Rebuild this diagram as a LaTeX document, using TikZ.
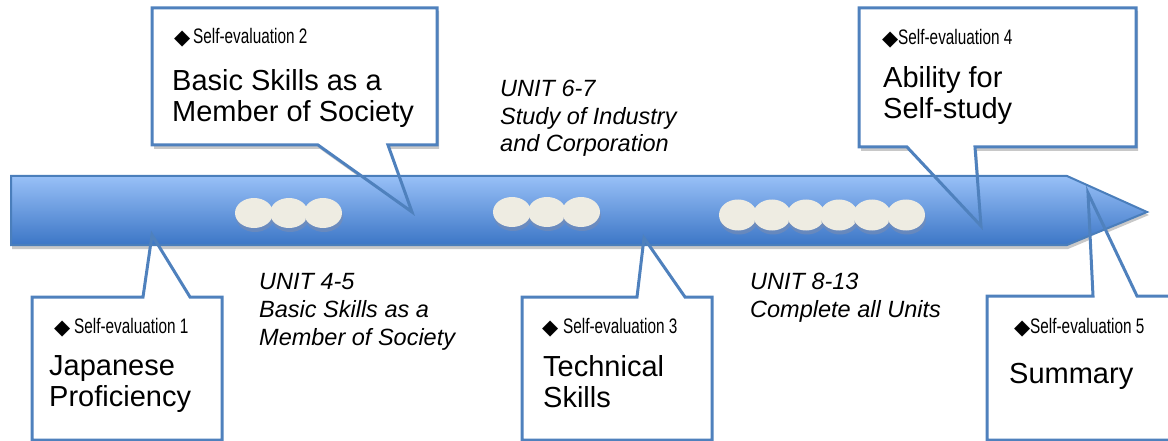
\documentclass[tikz,border=0pt]{standalone}
\usepackage{fontspec}
\setmainfont{Liberation Sans}
\newfontfamily\symfont{DejaVu Sans}
\usepackage{graphicx}
\definecolor{cline}{RGB}{79,129,189}
\definecolor{aline}{RGB}{74,126,187}
\definecolor{atop}{RGB}{152,192,247}
\definecolor{abot}{RGB}{60,118,198}
\definecolor{ovalfill}{RGB}{238,236,226}
\definecolor{ovalshadow}{RGB}{120,140,178}
\definecolor{shadowgray}{RGB}{200,200,200}
\begin{document}
\begin{tikzpicture}[x=1pt,y=-1pt,
  calloutline/.style={draw=cline, line width=3pt, line join=miter},
  calloutfill/.style={fill=white},
  cshadow/.style={fill=shadowgray},
  bead/.style={fill=ovalfill},
  beadshadow/.style={fill=ovalshadow},
  diam/.style={anchor=base west, inner sep=0, font=\symfont\fontsize{21}{21}\selectfont},
  selfev/.style={anchor=base west, inner sep=0, font=\fontsize{21}{21}\selectfont},
  lbl/.style={anchor=base west, inner sep=0, font=\fontsize{29}{31}\selectfont},
  unit/.style={anchor=base west, inner sep=0, font=\fontsize{23.5}{28}\selectfont\itshape}
]
\useasboundingbox (0,0) rectangle (1168,441);
\begin{scope}
\clip (0,0) rectangle (1168,441);
% shadows
\fill[shadowgray] (12,179) -- (1068,179) -- (1149,215) -- (1068,249) -- (12,249) -- cycle;
\path[cshadow] (154,11) -- (439,11) -- (439,149) -- (390,149) -- (414,216) -- (320,149) -- (154,149) -- cycle;
\path[cshadow] (861,11) -- (1138,11) -- (1138,151) -- (977,151) -- (983,230) -- (909,151) -- (861,151) -- cycle;
% callout fills
\path[calloutfill] (32,297) -- (143,297) -- (152,235) -- (190,297) -- (222,297) -- (222,440) -- (32,440) -- cycle;
\path[calloutfill] (152,8) -- (437,8) -- (437,145) -- (388,145) -- (412,212) -- (318,145) -- (152,145) -- cycle;
\path[calloutfill] (522,297) -- (637,297) -- (644,238) -- (685,297) -- (712,297) -- (712,440) -- (522,440) -- cycle;
\path[calloutfill] (859,8) -- (1136,8) -- (1136,147) -- (975,147) -- (981,226) -- (907,147) -- (859,147) -- cycle;
\path[calloutfill] (987,296) -- (1093,296) -- (1088,193) -- (1137,296) -- (1177,296) -- (1177,440) -- (987,440) -- cycle;
% arrow
\draw[draw=aline, line width=2pt, top color=atop, bottom color=abot, line join=miter]
  (11,176) -- (1067,176) -- (1147,212) -- (1067,245) -- (11,245) -- cycle;
% beads
\foreach \x in {254,289,323} {
  \fill[beadshadow, opacity=0.6] (\x+1,217) ellipse (19 and 15);
  \fill[bead] (\x,213) ellipse (19 and 15);
}
\foreach \x in {512,547,581} {
  \fill[beadshadow, opacity=0.6] (\x+1,216) ellipse (19 and 15);
  \fill[bead] (\x,212) ellipse (19 and 15);
}
\foreach \x in {738,772,806,839,872,906} {
  \fill[beadshadow, opacity=0.6] (\x+1,219) ellipse (19 and 15.5);
  \fill[bead] (\x,215) ellipse (19 and 15.5);
}
% callout outlines
\path[calloutline] (32,297) -- (143,297) -- (152,235) -- (190,297) -- (222,297) -- (222,440) -- (32,440) -- cycle;
\path[calloutline] (152,8) -- (437,8) -- (437,145) -- (388,145) -- (412,212) -- (318,145) -- (152,145) -- cycle;
\path[calloutline] (522,297) -- (637,297) -- (644,238) -- (685,297) -- (712,297) -- (712,440) -- (522,440) -- cycle;
\path[calloutline] (859,8) -- (1136,8) -- (1136,147) -- (975,147) -- (981,226) -- (907,147) -- (859,147) -- cycle;
\path[calloutline] (987,296) -- (1093,296) -- (1088,193) -- (1137,296) -- (1177,296) -- (1177,440) -- (987,440) -- cycle;
\end{scope}
% callout texts
\node[diam] (d1) at (54,334) {◆};
\node[selfev] (s1) at (74,333) {\scalebox{0.73}[1]{Self-evaluation 1}};
\node[lbl] (l1a) at (49,375) {Japanese};
\node[lbl] (l1b) at (49,406) {Proficiency};

\node[diam] (d2) at (174,45) {◆};
\node[selfev] (s2) at (193,44) {\scalebox{0.73}[1]{Self-evaluation 2}};
\node[lbl] (l2a) at (172,91) {Basic Skills as a};
\node[lbl] (l2b) at (172,122) {Member of Society};

\node[diam] (d3) at (542,334) {◆};
\node[selfev] (s3) at (563,333) {\scalebox{0.73}[1]{Self-evaluation 3}};
\node[lbl] (l3a) at (543,376) {Technical};
\node[lbl] (l3b) at (543,407) {Skills};

\node[diam] (d4) at (882,46) {◆};
\node[selfev] (s4) at (898,45) {\scalebox{0.73}[1]{Self-evaluation 4}};
\node[lbl] (l4a) at (883,88) {Ability for};
\node[lbl] (l4b) at (883,119) {Self-study};

\node[diam] (d5) at (1014,334) {◆};
\node[selfev] (s5) at (1030,333) {\scalebox{0.73}[1]{Self-evaluation 5}};
\node[lbl] (l5a) at (1009,383) {Summary};
% unit texts
\node[unit] (u45a) at (259,289) {UNIT 4-5};
\node[unit] (u45b) at (259,317) {Basic Skills as a};
\node[unit] (u45c) at (259,345) {Member of Society};
\node[unit] (u67a) at (500,97) {UNIT 6-7};
\node[unit] (u67b) at (500,125) {Study of Industry};
\node[unit] (u67c) at (500,152) {and Corporation};
\node[unit] (u813a) at (750,289) {UNIT 8-13};
\node[unit] (u813b) at (750,317) {Complete all Units};
\end{tikzpicture}
\end{document}
